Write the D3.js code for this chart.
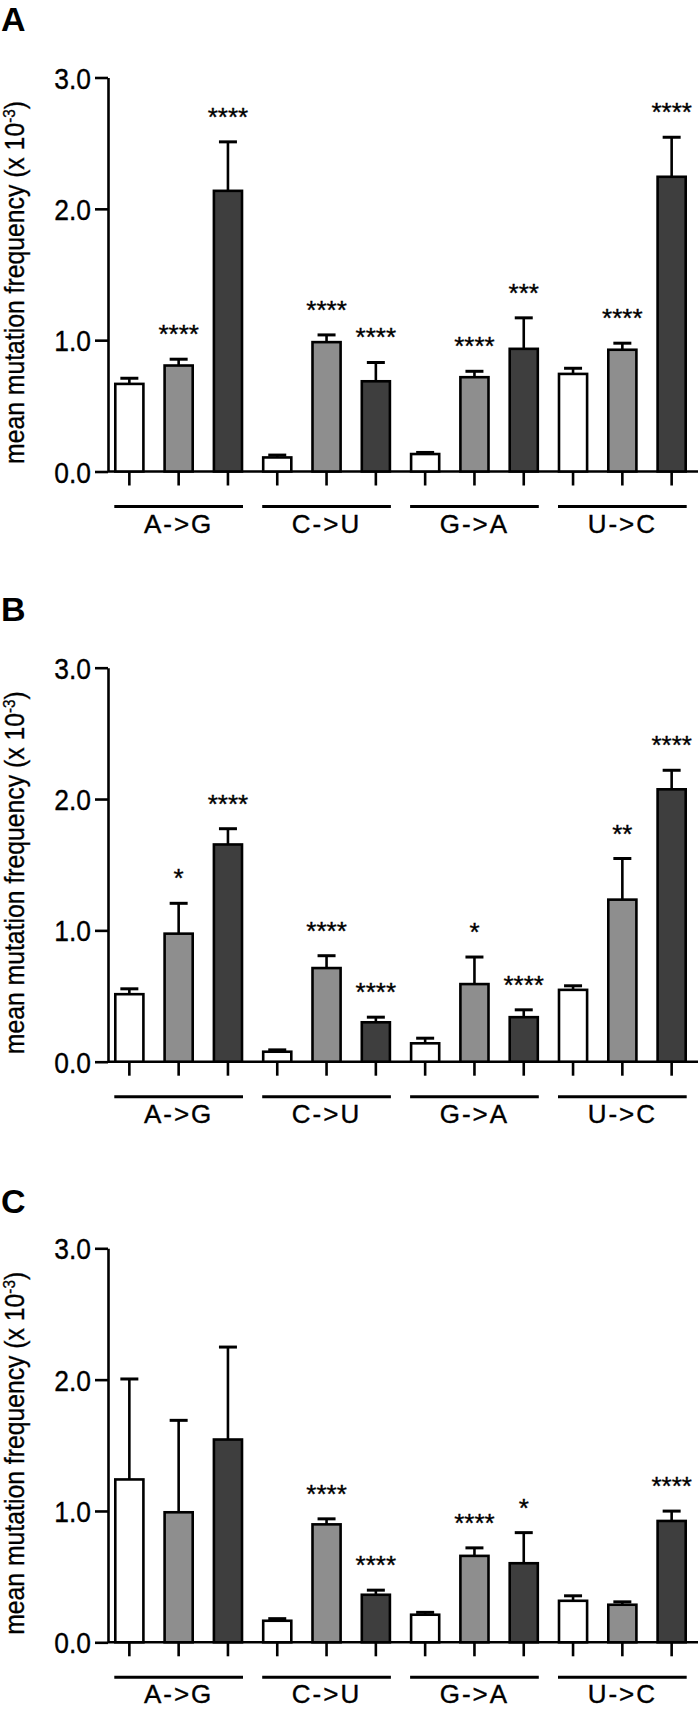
<!DOCTYPE html>
<html>
<head>
<meta charset="utf-8">
<script src="https://cdn.jsdelivr.net/npm/d3@7"></script>
<style>
  html, body { margin: 0; padding: 0; background: #fff; }
  svg { display: block; }
  text { font-family: "Liberation Sans", Arial, Helvetica, sans-serif; fill: #000; stroke: #000; stroke-width: 0.35px; }
</style>
</head>
<body>
<script>
// ---------------- DATA ----------------
const categories = ["A->G", "C->U", "G->A", "U->C"];
const seriesKeys = ["white", "gray", "dark"];
const yTicks = [0, 1, 2, 3];
const panelLabels = ["A", "B", "C"];

// Panel A (order: A->G s1,s2,s3, C->U s1,s2,s3, G->A ..., U->C ...)
const meansA = [0.667, 0.807, 2.137, 0.107, 0.985, 0.687, 0.133, 0.718, 0.934, 0.743, 0.927, 2.244];
const errsA  = [0.043, 0.048, 0.373, 0.018, 0.055, 0.143, 0.012, 0.045, 0.236, 0.043, 0.050, 0.301];
const sigA   = ["", "****", "****", "", "****", "****", "", "****", "***", "", "****", "****"];

// Panel B
const meansB = [0.514, 0.975, 1.654, 0.076, 0.713, 0.300, 0.140, 0.591, 0.339, 0.547, 1.234, 2.074];
const errsB  = [0.041, 0.231, 0.120, 0.014, 0.094, 0.039, 0.039, 0.206, 0.056, 0.031, 0.313, 0.145];
const sigB   = ["", "*", "****", "", "****", "****", "", "*", "****", "", "**", "****"];

// Panel C
const meansC = [1.240, 0.990, 1.544, 0.164, 0.898, 0.362, 0.210, 0.658, 0.602, 0.316, 0.286, 0.924];
const errsC  = [0.765, 0.700, 0.704, 0.016, 0.042, 0.035, 0.018, 0.061, 0.233, 0.038, 0.022, 0.075];
const sigC   = ["", "", "", "", "****", "****", "", "****", "*", "", "", "****"];

// ---------------- LAYOUT ----------------
const W = 700, H = 1717;
const fills = { white: "#ffffff", gray: "#8e8e8e", dark: "#3e3e3e" };
const panelTops = [77.5, 667.7, 1248.3];
const labelYs = [31, 621, 1213];
const plotH = 394;
const axisX = 108;

const panels = [
  { means: meansA, errs: errsA, sig: sigA },
  { means: meansB, errs: errsB, sig: sigB },
  { means: meansC, errs: errsC, sig: sigC }
];

const svg = d3.select("body").append("svg")
  .attr("width", W).attr("height", H);

const outer = d3.scaleBand().domain(categories).range([104.7, 696.3]);
const inner = d3.scaleBand().domain(seriesKeys).range([0, outer.bandwidth()])
  .paddingInner(0.43).paddingOuter(0.215);
const bw = inner.bandwidth();

panels.forEach((p, pi) => {
  const top = panelTops[pi];
  const g = svg.append("g").attr("transform", `translate(0,${top})`);
  const y = d3.scaleLinear().domain([0, 3]).range([plotH, 0]);

  const rows = [];
  categories.forEach((c, ci) => {
    seriesKeys.forEach((s, si) => {
      const i = ci * 3 + si;
      rows.push({ cat: c, s, mean: p.means[i], err: p.errs[i], sig: p.sig[i] });
    });
  });
  const cx = d => outer(d.cat) + inner(d.s) + bw / 2;

  // panel label
  svg.append("text")
    .attr("x", 1).attr("y", labelYs[pi])
    .attr("font-size", 34).attr("font-weight", "bold")
    .style("stroke-width", "0px")
    .text(panelLabels[pi]);

  // y-axis title
  const yt = g.append("text")
    .attr("transform", `translate(24,${plotH / 2 + 8}) rotate(-90) scale(0.9,1)`)
    .attr("text-anchor", "middle")
    .attr("font-size", 27.5);
  yt.append("tspan").text("mean mutation frequency (x 10");
  yt.append("tspan").attr("font-size", 17).attr("dy", -9).text("-3");
  yt.append("tspan").attr("dy", 9).text(")");

  // y axis
  const yAxis = g.append("g")
    .attr("transform", `translate(${axisX},0)`)
    .call(d3.axisLeft(y).tickValues(yTicks).tickFormat(d3.format(".1f"))
      .tickSize(13).tickSizeOuter(0));
  yAxis.select(".domain").attr("stroke", "#000").attr("stroke-width", 2.6);
  yAxis.selectAll(".tick line").attr("stroke", "#000").attr("stroke-width", 2.6);
  yAxis.selectAll(".tick text")
    .attr("x", null).attr("dy", null)
    .attr("transform", "translate(-17,10.5) scale(0.88,1)")
    .attr("font-size", 30)
    .attr("font-family", "'Liberation Sans', Arial, sans-serif")
    .attr("fill", "#000");

  // x baseline
  g.append("line")
    .attr("x1", axisX).attr("x2", 698)
    .attr("y1", y(0)).attr("y2", y(0))
    .attr("stroke", "#000").attr("stroke-width", 2.6);

  // x tick marks
  g.selectAll(".xt").data(rows).join("line")
    .attr("x1", cx).attr("x2", cx)
    .attr("y1", y(0)).attr("y2", y(0) + 14)
    .attr("stroke", "#000").attr("stroke-width", 2.6);

  // error bars
  const eb = g.selectAll(".eb").data(rows).join("g");
  eb.append("line")
    .attr("x1", cx).attr("x2", cx)
    .attr("y1", d => y(d.mean)).attr("y2", d => y(d.mean + d.err))
    .attr("stroke", "#000").attr("stroke-width", 2.6);
  eb.append("line")
    .attr("x1", d => cx(d) - 9).attr("x2", d => cx(d) + 9)
    .attr("y1", d => y(d.mean + d.err)).attr("y2", d => y(d.mean + d.err))
    .attr("stroke", "#000").attr("stroke-width", 3);

  // bars
  g.selectAll(".bar").data(rows).join("rect")
    .attr("x", d => outer(d.cat) + inner(d.s))
    .attr("width", bw)
    .attr("y", d => y(d.mean))
    .attr("height", d => y(0) - y(d.mean))
    .attr("fill", d => fills[d.s])
    .attr("stroke", "#000").attr("stroke-width", 2.6);

  // significance stars
  g.selectAll(".sig").data(rows.filter(d => d.sig)).join("text")
    .attr("x", cx)
    .attr("y", d => y(d.mean + d.err) - 16)
    .attr("text-anchor", "middle")
    .attr("font-size", 26)
    .text(d => d.sig);

  // group underlines and labels
  categories.forEach(c => {
    const x1 = outer(c) + inner(seriesKeys[0]) - 1;
    const x2 = outer(c) + inner(seriesKeys[2]) + bw + 1;
    g.append("line")
      .attr("x1", x1).attr("x2", x2)
      .attr("y1", y(0) + 35).attr("y2", y(0) + 35)
      .attr("stroke", "#000").attr("stroke-width", 3);
    g.append("text")
      .attr("x", (x1 + x2) / 2)
      .attr("y", y(0) + 61)
      .attr("text-anchor", "middle")
      .attr("font-size", 26)
      .attr("letter-spacing", 2)
      .text(c);
  });
});
</script>
</body>
</html>
